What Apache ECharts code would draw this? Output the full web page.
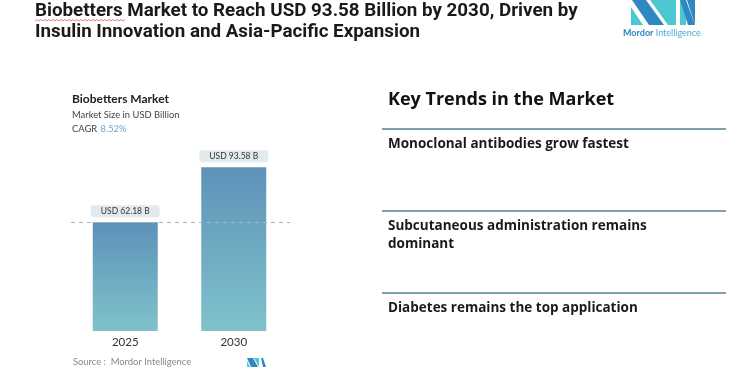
<!DOCTYPE html>
<html>
<head>
<meta charset="utf-8">
<script src="https://cdn.jsdelivr.net/npm/echarts@6/dist/echarts.min.js"></script>
<style>
  html, body { margin: 0; padding: 0; background: #fff; }
  #main { width: 750px; height: 375px; }
</style>
</head>
<body>
<div id="main"></div>
<script>
// 数据
var years = ['2025', '2030'];
var marketSize = [62.18, 93.58];
var barLabels = ['USD 62.18 B', 'USD 93.58 B'];
var cagr = '8.52%';
var trends = [
  'Monoclonal antibodies grow fastest',
  'Subcutaneous administration remains\ndominant',
  'Diabetes remains the top application'
];

var chart = echarts.init(document.getElementById('main'));

// 右侧趋势列表
var trendY = [129, 211, 293];
var trendGraphics = [];
for (var i = 0; i < trends.length; i++) {
  trendGraphics.push({
    type: 'line',
    shape: { x1: 382, y1: trendY[i], x2: 726, y2: trendY[i] },
    style: { stroke: '#4f7f9c', lineWidth: 1.5 }
  });
  trendGraphics.push({
    type: 'text',
    left: 388, top: trendY[i] + 6,
    style: {
      text: trends[i],
      font: 'bold 13.5px "Open Sans"',
      fill: '#1a1a1a',
      lineHeight: 18
    }
  });
}

// 拼写检查波浪线
var squiggle = [];
for (var sx = 35; sx <= 125; sx += 2) {
  squiggle.push([sx, (sx - 35) % 4 === 0 ? 21 : 19.5]);
}

var option = {
  backgroundColor: '#fff',
  animation: false,
  grid: { left: 71, width: 217, top: 156, bottom: 44 },
  xAxis: {
    type: 'category',
    data: years,
    axisLine: { show: false },
    axisTick: { show: false },
    axisLabel: { color: '#333', fontSize: 11.5, fontFamily: 'Lato', margin: 5 }
  },
  yAxis: {
    type: 'value',
    min: 0, max: 100,
    show: false,
    splitLine: { show: false }
  },
  series: [{
    type: 'bar',
    data: marketSize,
    barWidth: 65,
    itemStyle: {
      color: new echarts.graphic.LinearGradient(0, 0, 0, 1, [
        { offset: 0, color: '#5e92b8' },
        { offset: 1, color: '#7fc2cb' }
      ])
    },
    label: {
      show: true,
      position: 'top',
      distance: 5,
      formatter: function (p) { return barLabels[p.dataIndex]; },
      color: '#333',
      fontSize: 8.5,
      fontFamily: 'Lato',
      backgroundColor: '#e2eaee',
      borderRadius: 3,
      padding: [2, 10, 1, 10]
    },
    markLine: {
      silent: true,
      symbol: 'none',
      label: { show: false },
      lineStyle: { color: '#a9b4ba', type: [4, 4], width: 1 },
      data: [[{ x: 71, yAxis: marketSize[0] }, { x: 290, yAxis: marketSize[0] }]]
    }
  }],
  graphic: [
    // 标题
    {
      type: 'text', left: 35, top: 1,
      style: {
        text: 'Biobetters Market to Reach USD 93.58 Billion by 2030, Driven by\nInsulin Innovation and Asia-Pacific Expansion',
        font: 'bold 18.8px Roboto',
        fill: '#1a1a1a',
        lineHeight: 21
      }
    },
    {
      type: 'polyline',
      shape: { points: squiggle },
      style: { stroke: '#e06060', lineWidth: 0.8, fill: null }
    },
    // logo
    { type: 'polygon', shape: { points: [[631,7],[631,25],[643,25]] }, style: { fill: '#4cc9d0' } },
    { type: 'polygon', shape: { points: [[632,0],[646,0],[664,25],[649,25]] }, style: { fill: '#2f88c2' } },
    { type: 'polygon', shape: { points: [[650,0],[676,0],[676,25],[668,25]] }, style: { fill: '#4cc9d0' } },
    { type: 'polygon', shape: { points: [[680,0],[686,0],[686,25],[680,25]] }, style: { fill: '#4cc9d0' } },
    { type: 'polygon', shape: { points: [[687,0],[695,0],[695,25]] }, style: { fill: '#2f88c2' } },
    { type: 'polygon', shape: { points: [[680,0],[686,0],[695,25],[688,25]] }, style: { fill: '#2f88c2' } },
    {
      type: 'text', left: 623, top: 29,
      style: { rich: {
        a: { font: 'bold 9px Lato', fill: '#2f88c2' },
        b: { font: '9px Lato', fill: '#4fa8d6' }
      }, text: '{a|Mordor}{b| Intelligence}' }
    },
    // 图表副标题
    {
      type: 'text', left: 72, top: 93,
      style: { text: 'Biobetters Market', font: 'bold 12px Lato', fill: '#222' }
    },
    {
      type: 'text', left: 72, top: 110,
      style: { text: 'Market Size in USD Billion', font: '9.4px Lato', fill: '#444' }
    },
    {
      type: 'text', left: 72, top: 123,
      style: { rich: {
        a: { font: '9.4px Lato', fill: '#444' },
        b: { font: '9.4px Lato', fill: '#6aa6cf' }
      }, text: '{a|CAGR} {b|' + cagr + '}' }
    },
    // 来源
    {
      type: 'text', left: 73, top: 357,
      style: { text: 'Source :  Mordor Intelligence', font: '9.4px Lato', fill: '#888' }
    },
    { type: 'polygon', shape: { points: [[247,358],[253,358],[258,367],[251,367]] }, style: { fill: '#2f88c2' } },
    { type: 'polygon', shape: { points: [[247,361],[247,367],[250,367]] }, style: { fill: '#4cc9d0' } },
    { type: 'polygon', shape: { points: [[254,358],[259,358],[259,367]] }, style: { fill: '#4cc9d0' } },
    { type: 'polygon', shape: { points: [[261,358],[263,358],[266,367],[263,367]] }, style: { fill: '#2f88c2' } },
    // 右侧标题
    {
      type: 'text', left: 388, top: 91,
      style: { text: 'Key Trends in the Market', font: 'bold 18px "Open Sans"', fill: '#111' }
    }
  ].concat(trendGraphics)
};

chart.setOption(option);

window.onresize = function () {
  chart.resize();
};
</script>
</body>
</html>
